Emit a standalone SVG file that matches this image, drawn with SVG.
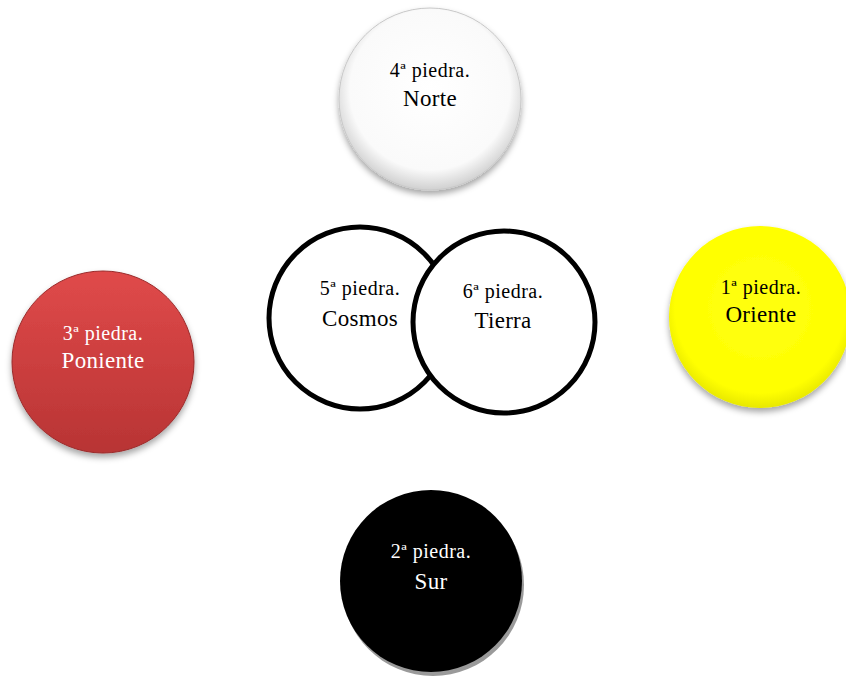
<svg xmlns="http://www.w3.org/2000/svg" width="846" height="677" viewBox="0 0 846 677">
<defs>
<style>
.t1{font-family:"Liberation Serif","DejaVu Serif",serif;font-size:20px;letter-spacing:0.5px;text-anchor:middle}
.t2{font-family:"Liberation Serif","DejaVu Serif",serif;font-size:23px;letter-spacing:0.3px;text-anchor:middle}
.dk{fill:#000}
.lt{fill:#fff}
.ring{fill:#fff;stroke:#000;stroke-width:5}
</style>
<radialGradient id="gW" cx="0.5" cy="0.45" r="0.55">
<stop offset="0" stop-color="#ffffff"/>
<stop offset="0.8" stop-color="#fafafa"/>
<stop offset="1" stop-color="#d0d0d0"/>
</radialGradient>
<linearGradient id="gR" x1="0" y1="0" x2="0" y2="1">
<stop offset="0" stop-color="#e04a4a"/>
<stop offset="1" stop-color="#b83434"/>
</linearGradient>
<radialGradient id="gY" cx="0.5" cy="0.45" r="0.55">
<stop offset="0" stop-color="#ffff10"/>
<stop offset="0.85" stop-color="#ffff00"/>
<stop offset="1" stop-color="#e8e800"/>
</radialGradient>
<filter id="sh" x="-20%" y="-20%" width="140%" height="150%">
<feDropShadow dx="0" dy="4" stdDeviation="3" flood-color="#000" flood-opacity="0.35"/>
</filter>
</defs>
<g id="norte">
<circle cx="430" cy="99" r="91" fill="url(#gW)" stroke="#c8c8c8" stroke-width="1" filter="url(#sh)"/>
<text class="t1 dk" x="430" y="77">4ª piedra.</text>
<text class="t2 dk" x="430" y="106">Norte</text>
</g>
<g id="poniente">
<circle cx="103" cy="362" r="91" fill="url(#gR)" stroke="#9a2a2a" stroke-width="1" filter="url(#sh)"/>
<text class="t1 lt" x="103" y="340">3ª piedra.</text>
<text class="t2 lt" x="103" y="368">Poniente</text>
</g>
<g id="oriente">
<circle cx="760" cy="317" r="91" fill="url(#gY)" filter="url(#sh)"/>
<text class="t1 dk" x="761" y="294">1ª piedra.</text>
<text class="t2 dk" x="761" y="322">Oriente</text>
</g>
<g id="sur">
<circle cx="433" cy="585" r="91" fill="#9a9a9a"/>
<circle cx="431" cy="581" r="91" fill="#000"/>
<text class="t1 lt" x="431" y="558">2ª piedra.</text>
<text class="t2 lt" x="431" y="589">Sur</text>
</g>
<g id="cosmos">
<circle class="ring" cx="360" cy="318" r="91"/>
<text class="t1 dk" x="360" y="295">5ª piedra.</text>
<text class="t2 dk" x="360" y="326">Cosmos</text>
</g>
<g id="tierra">
<circle class="ring" cx="504" cy="322" r="91"/>
<text class="t1 dk" x="503" y="298">6ª piedra.</text>
<text class="t2 dk" x="503" y="328">Tierra</text>
</g>
<g id="connectors"></g>
</svg>
